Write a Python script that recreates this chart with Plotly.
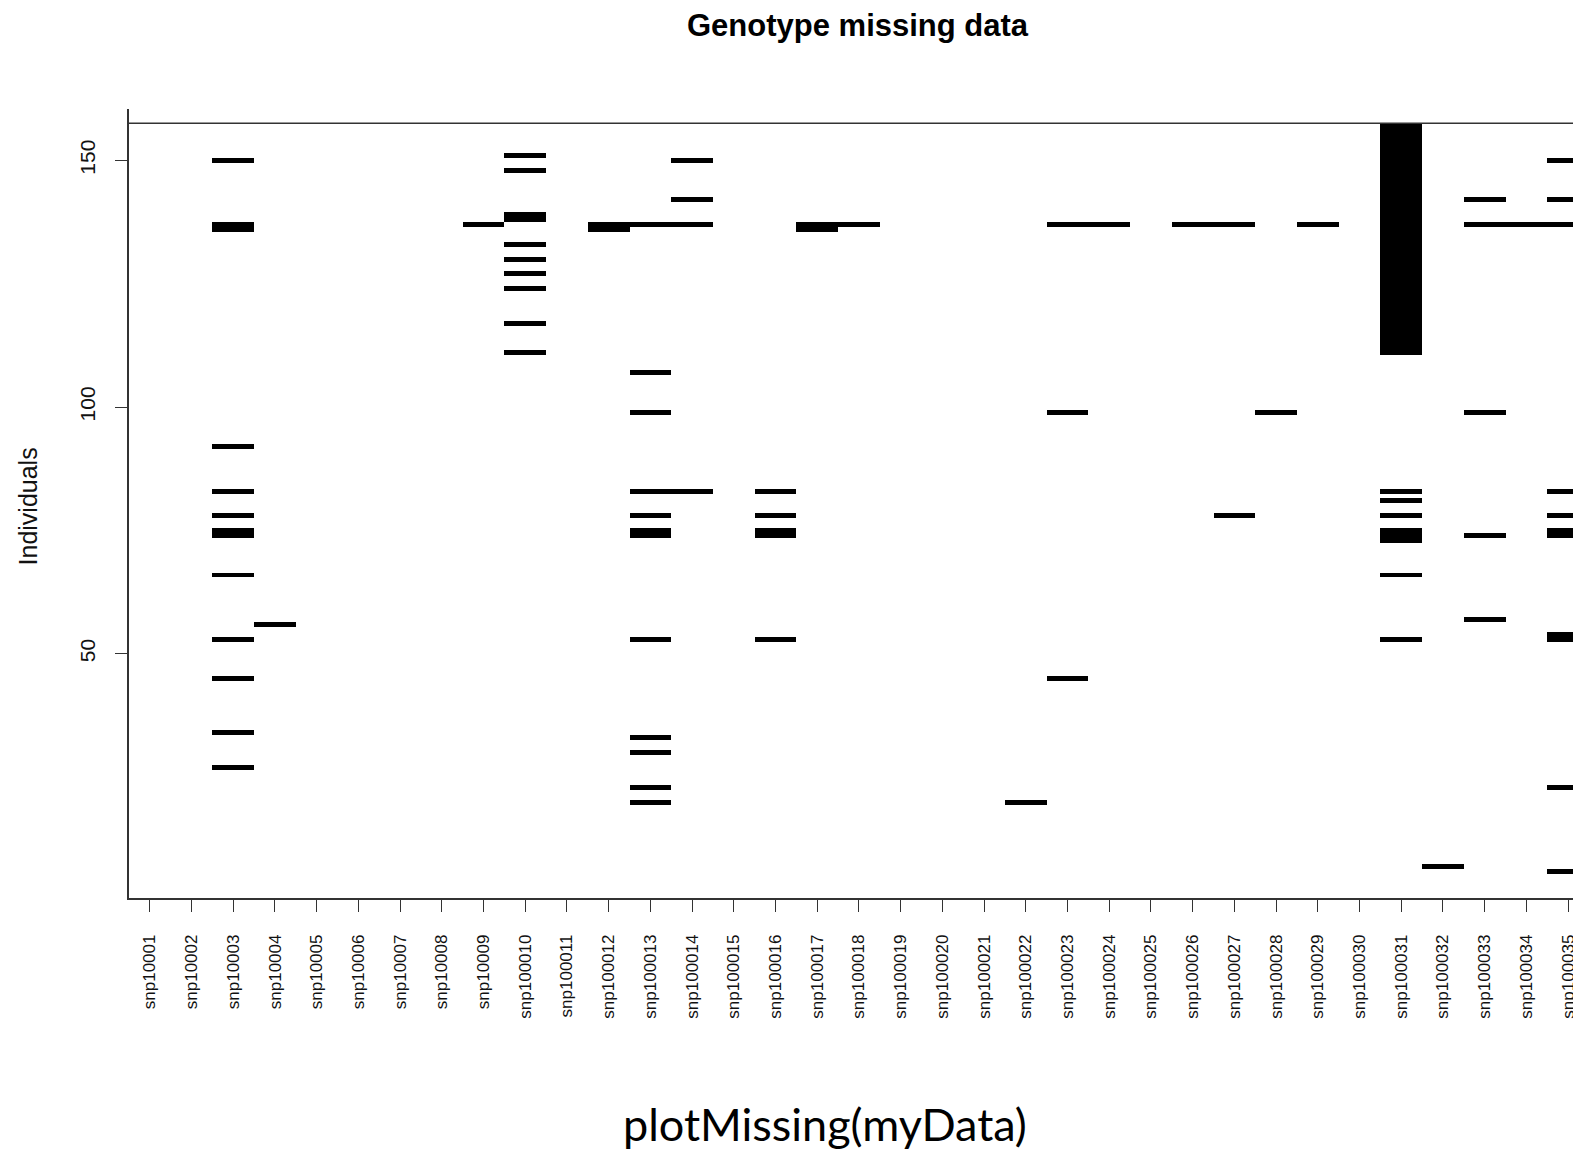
import plotly.graph_objects as go

# ---------------- data ----------------
snp_labels = ["snp1000%d" % i for i in range(1, 10)] + ["snp1000%d" % i for i in range(10, 36)]

# runs of consecutive missing individuals: snp position (1-based), first and last individual
run_snp = [3, 3, 3, 3, 3, 3, 3, 3, 3, 3, 3,
           4,
           9,
           10, 10, 10, 10, 10, 10, 10, 10, 10,
           12,
           13, 13, 13, 13, 13, 13, 13, 13, 13, 13, 13,
           14, 14, 14, 14,
           16, 16, 16, 16,
           17,
           18,
           22,
           23, 23, 23,
           24,
           26,
           27, 27,
           28,
           29,
           31, 31, 31, 31, 31, 31, 31,
           32,
           33, 33, 33, 33, 33,
           34,
           35, 35, 35, 35, 35, 35, 35, 35, 35]
run_start = [150, 136, 92, 83, 78, 74, 66, 53, 45, 34, 27,
             56,
             137,
             151, 148, 138, 133, 130, 127, 124, 117, 111,
             136,
             137, 107, 99, 83, 78, 74, 53, 33, 30, 23, 20,
             150, 142, 137, 83,
             83, 78, 74, 53,
             136,
             137,
             20,
             137, 99, 45,
             137,
             137,
             137, 78,
             99,
             137,
             111, 83, 81, 78, 73, 66, 53,
             7,
             142, 137, 99, 74, 57,
             137,
             150, 142, 137, 83, 78, 74, 53, 23, 6]
run_end = [150, 137, 92, 83, 78, 75, 66, 53, 45, 34, 27,
           56,
           137,
           151, 148, 139, 133, 130, 127, 124, 117, 111,
           137,
           137, 107, 99, 83, 78, 75, 53, 33, 30, 23, 20,
           150, 142, 137, 83,
           83, 78, 75, 53,
           137,
           137,
           20,
           137, 99, 45,
           137,
           137,
           137, 78,
           99,
           137,
           157, 83, 81, 78, 75, 66, 53,
           7,
           142, 137, 99, 74, 57,
           137,
           150, 142, 137, 83, 78, 75, 54, 23, 6]

n_individuals = 157
y_ticks = [50, 100, 150]

# ---------------- build matrix ----------------
n_snp = len(snp_labels)
z = [[0] * n_snp for _ in range(n_individuals)]
for s, a, b in zip(run_snp, run_start, run_end):
    for ind in range(a, b + 1):
        z[ind - 1][s - 1] = 1

x_pos = list(range(1, n_snp + 1))
y_pos = list(range(1, n_individuals + 1))

# page geometry (the html body adds an 8px offset)
OFF = 8
PAGE_W, PAGE_H = 1581, 1154
W, H = PAGE_W - OFF, PAGE_H - OFF
L = 129.35 - OFF
T = 109 - OFF
BOT = 898.3 - OFF
B = H - BOT
cell_w = 41.7
x_max = 0.5 + (W - L) / cell_w

fig = go.Figure(go.Heatmap(
    x=x_pos, y=y_pos, z=z,
    zmin=0, zmax=1,
    colorscale=[[0, "white"], [1, "black"]],
    showscale=False, hoverinfo="skip", zsmooth=False,
))

axis_color = "#333333"
font_fam = "Liberation Sans, Arial, sans-serif"


def px_x(p):
    return (p - OFF - L) / (W - L)


def px_y(p):
    return (BOT - (p - OFF)) / (BOT - T)


fig.update_layout(
    width=W, height=H,
    template="none",
    paper_bgcolor="white", plot_bgcolor="white",
    margin=dict(l=L, r=0, t=T, b=B, autoexpand=False),
    xaxis=dict(range=[0.5, x_max], tickvals=x_pos, ticktext=snp_labels,
               tickangle=-90, ticks="outside", ticklen=12, tickwidth=1.3,
               tickcolor=axis_color, showline=True, linecolor=axis_color, linewidth=1.5,
               showgrid=False, zeroline=False, automargin=False,
               ticklabelstandoff=16,
               tickfont=dict(family=font_fam, size=17, color="#111111")),
    yaxis=dict(range=[0.5, 160.4], tickvals=y_ticks, ticktext=[str(v) for v in y_ticks],
               tickangle=-90, ticks="outside", ticklen=12, tickwidth=1.3,
               tickcolor=axis_color, showline=True, linecolor=axis_color, linewidth=1.5,
               showgrid=False, zeroline=False, automargin=False,
               ticklabelstandoff=12,
               tickfont=dict(family=font_fam, size=21, color="#111111")),
    shapes=[dict(type="line", xref="paper", yref="y", x0=0, x1=1,
                 y0=n_individuals + 0.5, y1=n_individuals + 0.5,
                 line=dict(color=axis_color, width=1.5), layer="above")],
    annotations=[
        dict(text="<b>Genotype missing data</b>", xref="paper", yref="paper",
             x=px_x(858), y=px_y(25), xanchor="center", yanchor="middle", showarrow=False,
             borderpad=0,
             font=dict(family=font_fam, size=31, color="black")),
        dict(text="Individuals", xref="paper", yref="paper",
             x=px_x(28), y=px_y(507),
             xanchor="center", yanchor="middle", textangle=-90, showarrow=False,
             font=dict(family=font_fam, size=25, color="#111111")),
        dict(text="plotMissing(myData)", xref="paper", yref="paper",
             x=px_x(825), y=px_y(1124),
             xanchor="center", yanchor="middle", showarrow=False,
             font=dict(family="Lato, Open Sans, sans-serif", size=45, color="black")),
    ],
)

fig.write_html("out.html")
